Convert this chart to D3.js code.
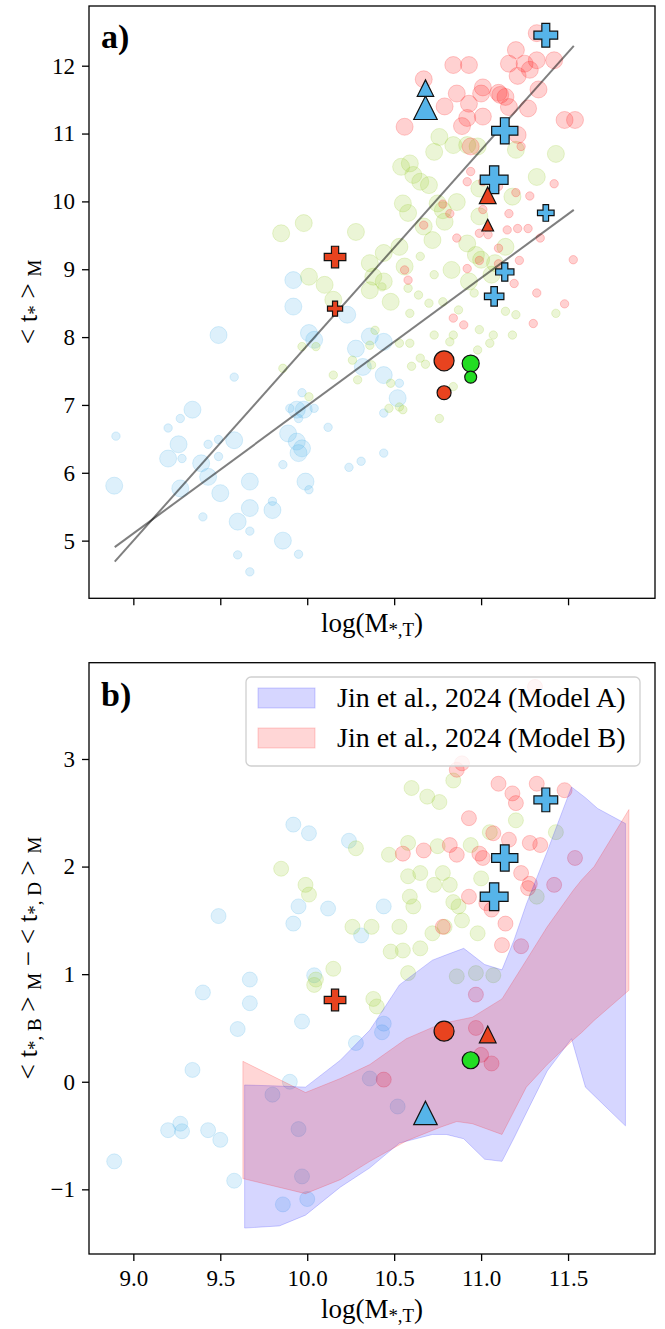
<!DOCTYPE html>
<html lang="en">
<head>
<meta charset="UTF-8">
<title>Bulge and disk ages</title>
<script src="https://d3js.org/d3.v7.min.js"></script>
<style>
  body { margin: 0; background: #fff; }
  svg text { font-family: "Liberation Serif", "DejaVu Serif", serif; }
</style>
</head>
<body>
<div id="chart"></div>
<script>
// ---------------- data ----------------
const xTicks  = [9.0, 9.5, 10.0, 10.5, 11.0, 11.5];
const yTicksA = [5, 6, 7, 8, 9, 10, 11, 12];
const yTicksB = [-1, 0, 1, 2, 3];

// highlighted galaxies: mass, bulge age, disk age
const hiMass   = [11.372, 11.136, 11.075, 10.68, 10.16, 11.038, 10.787, 10.94];
const hiBulge  = [12.45, 11.04, 10.32, 11.38, 9.18, 10.09, 7.65, 7.61];
const hiDisk   = [9.83, 8.96, 8.60, 11.67, 8.42, 9.65, 7.18, 7.41];
const hiWeight = [0.88, 0.97, 1.03, 0.87, 0.80, 0.62, 0.74, 0.63];
const hiMarker = ["cross", "cross", "cross", "triangle", "cross", "triangle", "circle", "circle"];
const hiGroup  = ["blue", "blue", "blue", "blue", "red", "red", "red", "green"];

// linear fits in panel a (bulge, disk)
const fitSlope     = [2.879, 1.883];
const fitIntercept = [-20.912, -11.842];
const fitRange     = [8.893, 11.533];

// sample, panel a: [logM, <t>]
const blueBulgeA = [[9.92,8.84],[9.92,8.45],[10.23,8.33],[9.49,8.03],[10.01,8.06],[10.04,7.96],[10.36,8.01],[10.44,7.93],[10.28,7.83],[10.32,7.56],[10.44,7.44],[10.52,7.10],[9.94,6.93],[9.98,6.93],[9.34,6.93],[9.26,6.42],[9.58,6.48],[9.89,6.58],[9.94,6.46],[9.97,6.36],[9.95,6.29],[9.20,6.21],[9.39,6.14],[9.43,5.94],[9.67,5.87],[9.99,5.87],[8.89,5.81],[9.27,5.77],[9.50,5.70],[9.67,5.48],[9.80,5.45],[9.60,5.28],[9.86,5.00]];
const blueDiskA = [[9.97,7.18],[9.58,7.41],[9.90,6.95],[10.04,6.95],[9.95,6.80],[10.12,6.67],[9.27,6.80],[9.20,6.66],[8.90,6.54],[9.43,6.42],[9.49,6.49],[9.28,6.21],[9.49,6.24],[10.44,6.29],[10.31,6.17],[10.24,6.08],[9.86,6.12],[10.01,5.75],[9.80,5.58],[9.40,5.35],[9.67,5.14],[9.60,4.79],[9.95,4.80],[9.67,4.54],[10.53,7.32],[10.44,6.88]];
const greenBulgeA = [[10.76,10.95],[10.84,10.83],[10.92,10.83],[10.98,10.81],[10.73,10.73],[11.20,10.76],[11.43,10.70],[10.54,10.51],[10.59,10.56],[10.61,10.39],[10.65,10.29],[10.70,10.24],[11.32,10.36],[10.99,10.19],[11.18,10.07],[10.55,9.97],[10.75,9.97],[10.86,9.99],[10.58,9.83],[10.78,9.87],[10.67,9.63],[10.79,9.70],[10.99,9.78],[10.72,9.43],[10.53,9.33],[10.44,9.24],[10.36,9.09],[10.56,9.04],[10.97,9.21],[11.00,9.14],[11.08,9.09],[10.83,8.99],[10.38,8.89],[10.44,8.82],[10.36,8.69],[10.48,8.52],[10.10,8.77],[10.01,8.89],[10.28,9.55],[9.98,9.68],[9.85,9.53],[10.15,8.55],[10.92,9.38],[11.14,9.33],[10.93,8.82],[11.06,8.92]];
const greenDiskA = [[10.43,8.74],[10.65,9.19],[10.73,8.92],[10.58,8.72],[10.64,8.62],[10.70,8.50],[10.78,8.52],[10.87,8.40],[10.96,8.65],[11.14,8.38],[11.20,8.33],[11.43,8.35],[10.59,8.35],[10.39,8.10],[10.53,7.91],[10.59,7.91],[10.73,8.03],[10.84,8.03],[10.82,7.93],[10.99,8.11],[11.07,8.03],[11.18,8.03],[11.05,7.91],[10.98,7.81],[10.65,7.69],[10.68,7.60],[10.60,7.57],[10.84,7.27],[10.76,6.80],[10.47,6.95],[10.55,6.93],[10.53,6.97],[10.48,7.32],[10.26,7.66],[10.37,7.59],[10.29,7.37],[10.15,7.44],[10.01,7.12],[9.97,7.86],[10.05,7.86],[9.86,7.54],[10.36,7.88]];
const redBulgeA = [[11.32,12.48],[10.84,12.01],[10.93,12.01],[11.20,12.23],[11.16,12.03],[11.25,12.03],[11.32,12.08],[11.42,12.08],[11.28,11.94],[11.21,11.85],[10.67,11.80],[11.01,11.68],[10.86,11.59],[11.00,11.59],[11.10,11.60],[11.14,11.54],[11.11,11.57],[11.33,11.65],[10.93,11.44],[10.79,11.40],[11.16,11.39],[11.27,11.37],[11.01,11.25],[10.92,11.23],[10.89,11.11],[10.56,11.10],[11.48,11.20],[11.54,11.20],[11.21,10.98],[10.94,10.81]];
const redDiskA = [[11.23,10.81],[10.94,10.44],[10.92,10.29],[11.01,10.29],[11.10,10.22],[11.20,10.13],[11.28,10.08],[11.42,10.26],[11.01,9.88],[11.16,9.82],[10.78,9.96],[10.82,9.82],[10.67,9.65],[11.15,9.58],[11.21,9.60],[11.27,9.60],[11.34,9.46],[10.99,9.53],[10.86,9.46],[11.04,9.51],[11.10,9.31],[10.99,9.13],[11.22,9.13],[11.10,9.08],[11.19,8.79],[11.53,9.14],[11.32,8.65],[11.48,8.49],[11.30,8.20],[10.92,9.01],[10.56,8.99],[10.58,8.84],[10.84,8.28],[10.90,8.18]];

// sample, panel b: [logM, <t_B> - <t_D>]
const blueB = [[9.92,2.39],[10.01,2.31],[10.24,2.24],[9.95,1.63],[10.12,1.61],[10.44,1.63],[9.49,1.54],[9.92,1.47],[10.31,1.36],[10.04,0.99],[9.67,0.95],[9.40,0.83],[9.67,0.73],[9.97,0.56],[9.60,0.49],[10.44,0.54],[10.43,0.46],[10.28,0.36],[9.34,0.11],[9.90,0.00],[10.36,0.03],[9.80,-0.12],[10.52,-0.23],[9.27,-0.39],[9.20,-0.45],[9.28,-0.46],[9.43,-0.45],[9.50,-0.54],[9.95,-0.44],[8.89,-0.74],[9.58,-0.92],[9.97,-0.88],[9.86,-1.14],[10.00,-1.09]];
const greenB = [[10.60,2.73],[10.69,2.65],[10.76,2.60],[10.84,2.80],[11.20,2.43],[11.05,2.32],[11.43,2.32],[10.94,2.20],[10.58,2.22],[10.28,2.17],[10.47,2.11],[10.75,2.19],[9.85,1.98],[10.65,1.94],[10.58,1.91],[10.78,1.94],[10.73,1.83],[10.82,1.83],[11.00,1.89],[9.99,1.83],[10.01,1.74],[10.59,1.72],[10.61,1.63],[10.84,1.67],[10.87,1.63],[10.89,1.50],[10.79,1.44],[10.72,1.38],[10.26,1.44],[10.37,1.44],[10.53,1.44],[10.98,1.38],[10.48,1.21],[10.55,1.22],[10.65,1.24],[10.15,1.05],[10.58,1.01],[10.05,0.95],[10.04,0.90],[10.38,0.77],[10.40,0.70],[10.86,0.98],[10.97,1.01],[11.07,0.99],[11.32,1.72]];
const redB = [[11.31,3.67],[10.89,2.96],[10.86,2.90],[11.10,2.77],[11.32,2.77],[11.48,2.71],[11.18,2.68],[11.20,2.59],[10.93,2.45],[11.07,2.31],[11.16,2.25],[11.28,2.22],[11.34,2.20],[10.55,2.12],[10.67,2.15],[10.82,2.20],[10.86,2.11],[10.99,2.12],[11.01,2.08],[11.23,1.94],[11.28,1.84],[11.27,1.80],[10.93,1.72],[11.03,1.66],[11.06,1.60],[11.14,1.47],[10.78,1.44],[11.12,1.27],[11.23,1.26],[11.54,2.08],[11.42,1.83],[10.97,0.81],[10.97,0.50],[11.00,0.25],[11.06,0.17],[10.44,0.02]];

// Jin et al. 2024 model bands
const modelAx  = [9.64, 9.84, 9.99, 10.19, 10.36, 10.53, 10.72, 10.80, 10.90, 11.02, 11.12, 11.19, 11.26, 11.38, 11.52, 11.60, 11.67, 11.83];
const modelAlo = [-1.36, -1.34, -1.24, -0.98, -0.80, -0.57, -0.49, -0.49, -0.53, -0.72, -0.74, -0.52, -0.29, 0.10, 0.40, -0.05, -0.16, -0.41];
const modelAhi = [-0.03, -0.04, -0.05, 0.20, 0.48, 0.90, 1.13, 1.18, 1.24, 1.09, 1.04, 1.32, 1.65, 2.14, 2.74, 2.64, 2.54, 2.40];
const modelBx  = [9.63, 9.99, 10.19, 10.36, 10.57, 10.77, 10.86, 10.95, 11.12, 11.26, 11.38, 11.53, 11.58, 11.65, 11.85];
const modelBlo = [-0.90, -1.04, -0.91, -0.74, -0.55, -0.42, -0.37, -0.39, -0.49, -0.05, 0.16, 0.39, 0.46, 0.57, 0.85];
const modelBhi = [0.19, -0.10, 0.03, 0.16, 0.40, 0.54, 0.57, 0.60, 0.77, 1.13, 1.44, 1.78, 1.88, 2.00, 2.53];
const modelNames = ["Jin et al., 2024 (Model A)", "Jin et al., 2024 (Model B)"];

// ---------------- layout ----------------
const W = 665, H = 1329;
const serif = '"Liberation Serif", "DejaVu Serif", serif';
const bg  = { blue: "#56b4e9", green: "#9acd32", red: "#ff1a1a" };
const hi  = { blue: "#56b4e9", green: "#22dd22", red: "#e8431f" };
const bandCol = ["#0000ff", "#ff0000"];

const svg = d3.select("#chart").append("svg")
    .attr("width", W).attr("height", H);

const x  = d3.scaleLinear().domain([8.745, 12.0]).range([89, 655]);
const yA = d3.scaleLinear().domain([4.15, 12.88]).range([598.3, 6]);
const yB = d3.scaleLinear().domain([-1.601, 3.895]).range([1254, 662.7]);

// marker shapes, size = (bounding width)^2
const symCircle = { draw(ctx, size) { const r = Math.sqrt(size) / 2; ctx.moveTo(r, 0); ctx.arc(0, 0, r, 0, 2 * Math.PI); } };
const symTriangle = { draw(ctx, size) {
    const s = Math.sqrt(size) / 2;
    ctx.moveTo(0, -s); ctx.lineTo(s, s); ctx.lineTo(-s, s); ctx.closePath(); } };
const symCross = { draw(ctx, size) {
    const s = Math.sqrt(size) / 2, a = s / 3;
    const pts = [[-a,-s],[a,-s],[a,-a],[s,-a],[s,a],[a,a],[a,s],[-a,s],[-a,a],[-s,a],[-s,-a],[-a,-a]];
    ctx.moveTo(pts[0][0], pts[0][1]);
    pts.slice(1).forEach(p => ctx.lineTo(p[0], p[1]));
    ctx.closePath(); } };
const symbols = { circle: symCircle, triangle: symTriangle, cross: symCross };
const hiSize = d3.scaleLinear().domain([0, 1]).range([0, 27]);

function panel(y, ticks, id, showXTicks) {
    const g = svg.append("g");
    const [x0, x1] = x.range(), [y1, y0] = y.range();

    svg.append("clipPath").attr("id", id).append("rect")
        .attr("x", x0).attr("y", y0).attr("width", x1 - x0).attr("height", y1 - y0);

    const plot = g.append("g").attr("clip-path", "url(#" + id + ")");

    const ax = g.append("g").attr("transform", "translate(0," + y1 + ")")
        .call(d3.axisBottom(x).tickValues(xTicks).tickSize(7).tickPadding(9)
            .tickFormat(showXTicks ? d3.format(".1f") : ""));
    const ay = g.append("g").attr("transform", "translate(" + x0 + ",0)")
        .call(d3.axisLeft(y).tickValues(ticks).tickSize(7).tickPadding(7)
            .tickFormat(d => d < 0 ? "\u2212" + Math.abs(d) : d));
    [ax, ay].forEach(a => {
        a.attr("font-family", serif).attr("font-size", 23);
        a.select(".domain").remove();
        a.selectAll("line").attr("stroke", "#000").attr("stroke-width", 1.3);
        a.selectAll("text").attr("fill", "#000").style("font-family", serif);
    });

    g.append("rect").attr("x", x0).attr("y", y0)
        .attr("width", x1 - x0).attr("height", y1 - y0)
        .attr("fill", "none").attr("stroke", "#000").attr("stroke-width", 1.3);

    return { g, plot };
}

function dots(plot, y, data, color, r) {
    plot.append("g").selectAll("circle").data(data).join("circle")
        .attr("cx", d => x(d[0])).attr("cy", d => y(d[1])).attr("r", r)
        .attr("fill", color).attr("fill-opacity", 0.2)
        .attr("stroke", color).attr("stroke-opacity", 0.22).attr("stroke-width", 1);
}

function highlights(plot, y, vals, scale) {
    const rows = hiMass.map((m, i) => ({ m, v: vals[i], i }));
    plot.append("g").selectAll("path").data(rows).join("path")
        .attr("transform", d => "translate(" + x(d.m) + "," + y(d.v) + ")")
        .attr("d", d => d3.symbol().type(symbols[hiMarker[d.i]])
            .size(Math.pow(hiSize(hiWeight[d.i]) * scale, 2))())
        .attr("fill", d => hi[hiGroup[d.i]])
        .attr("stroke", "#111").attr("stroke-width", 1.2);
}

// parts: [text, isSub, backToBase]
function mathLabel(sel, parts) {
    parts.forEach(p => {
        const t = sel.append("tspan").text(p[0]);
        if (p[1]) t.attr("font-size", "0.7em").attr("dy", 4);
        else if (p[2]) t.attr("dy", -4);
    });
}

// ---------------- panel a ----------------
const A = panel(yA, yTicksA, "clipA", false);
dots(A.plot, yA, blueBulgeA, bg.blue, 8.5);
dots(A.plot, yA, blueDiskA, bg.blue, 4.2);
dots(A.plot, yA, greenBulgeA, bg.green, 8.5);
dots(A.plot, yA, greenDiskA, bg.green, 4.2);
dots(A.plot, yA, redBulgeA, bg.red, 8.5);
dots(A.plot, yA, redDiskA, bg.red, 4.2);

fitSlope.forEach((s, i) => {
    const pts = fitRange.map(m => [m, s * m + fitIntercept[i]]);
    A.plot.append("path")
        .attr("d", d3.line().x(d => x(d[0])).y(d => yA(d[1]))(pts))
        .attr("stroke", "#000").attr("stroke-opacity", 0.5)
        .attr("stroke-width", 2).attr("fill", "none");
});

highlights(A.plot, yA, hiBulge, 1);
highlights(A.plot, yA, hiDisk, 0.7);

A.g.append("text").attr("x", 101).attr("y", 48)
    .attr("font-size", 34).attr("font-weight", "bold").text("a)");

// ---------------- panel b ----------------
const B = panel(yB, yTicksB, "clipB", true);
dots(B.plot, yB, blueB, bg.blue, 7.5);
dots(B.plot, yB, greenB, bg.green, 7.5);
dots(B.plot, yB, redB, bg.red, 7.5);

const bands = [[modelAx, modelAlo, modelAhi], [modelBx, modelBlo, modelBhi]];
bands.forEach((b, k) => {
    const rows = b[0].map((m, i) => [m, b[1][i], b[2][i]]);
    B.plot.append("path")
        .attr("d", d3.area().x(d => x(d[0])).y0(d => yB(d[1])).y1(d => yB(d[2]))(rows))
        .attr("fill", bandCol[k]).attr("fill-opacity", 0.16)
        .attr("stroke", bandCol[k]).attr("stroke-opacity", 0.18).attr("stroke-width", 1);
});

highlights(B.plot, yB, hiMass.map((m, i) => hiBulge[i] - hiDisk[i]), 1);

B.g.append("text").attr("x", 101).attr("y", 706)
    .attr("font-size", 34).attr("font-weight", "bold").text("b)");

// legend
const leg = B.g.append("g");
leg.append("rect").attr("x", 246).attr("y", 677).attr("width", 394).attr("height", 89)
    .attr("rx", 5).attr("fill", "#fff").attr("fill-opacity", 0.8)
    .attr("stroke", "#d0d0d0").attr("stroke-width", 1.3);
modelNames.forEach((name, k) => {
    const cy = 698 + k * 40;
    leg.append("rect").attr("x", 258).attr("y", cy - 10).attr("width", 57).attr("height", 20)
        .attr("fill", bandCol[k]).attr("fill-opacity", 0.16)
        .attr("stroke", bandCol[k]).attr("stroke-opacity", 0.18);
    leg.append("text").attr("x", 337).attr("y", cy + 9).attr("font-size", 28).text(name);
});

// ---------------- axis labels ----------------
[632, 1318].forEach(yy => {
    const t = svg.append("text").attr("x", 372).attr("y", yy)
        .attr("text-anchor", "middle").attr("font-size", 27);
    mathLabel(t, [["log(M"], ["*,T", true], [")", false, true]]);
});

const la = svg.append("text").attr("text-anchor", "middle").attr("font-size", 27)
    .attr("transform", "translate(37,302) rotate(-90)");
mathLabel(la, [["< t"], ["*", true], [" > ", false, true], ["M", true]]);

const lb = svg.append("text").attr("text-anchor", "middle").attr("font-size", 27)
    .attr("transform", "translate(37,958) rotate(-90)");
mathLabel(lb, [["< t"], ["*, B", true], [" > ", false, true], ["M", true],
               [" \u2212 < t", false, true], ["*, D", true], [" > ", false, true], ["M", true]]);
</script>
</body>
</html>
